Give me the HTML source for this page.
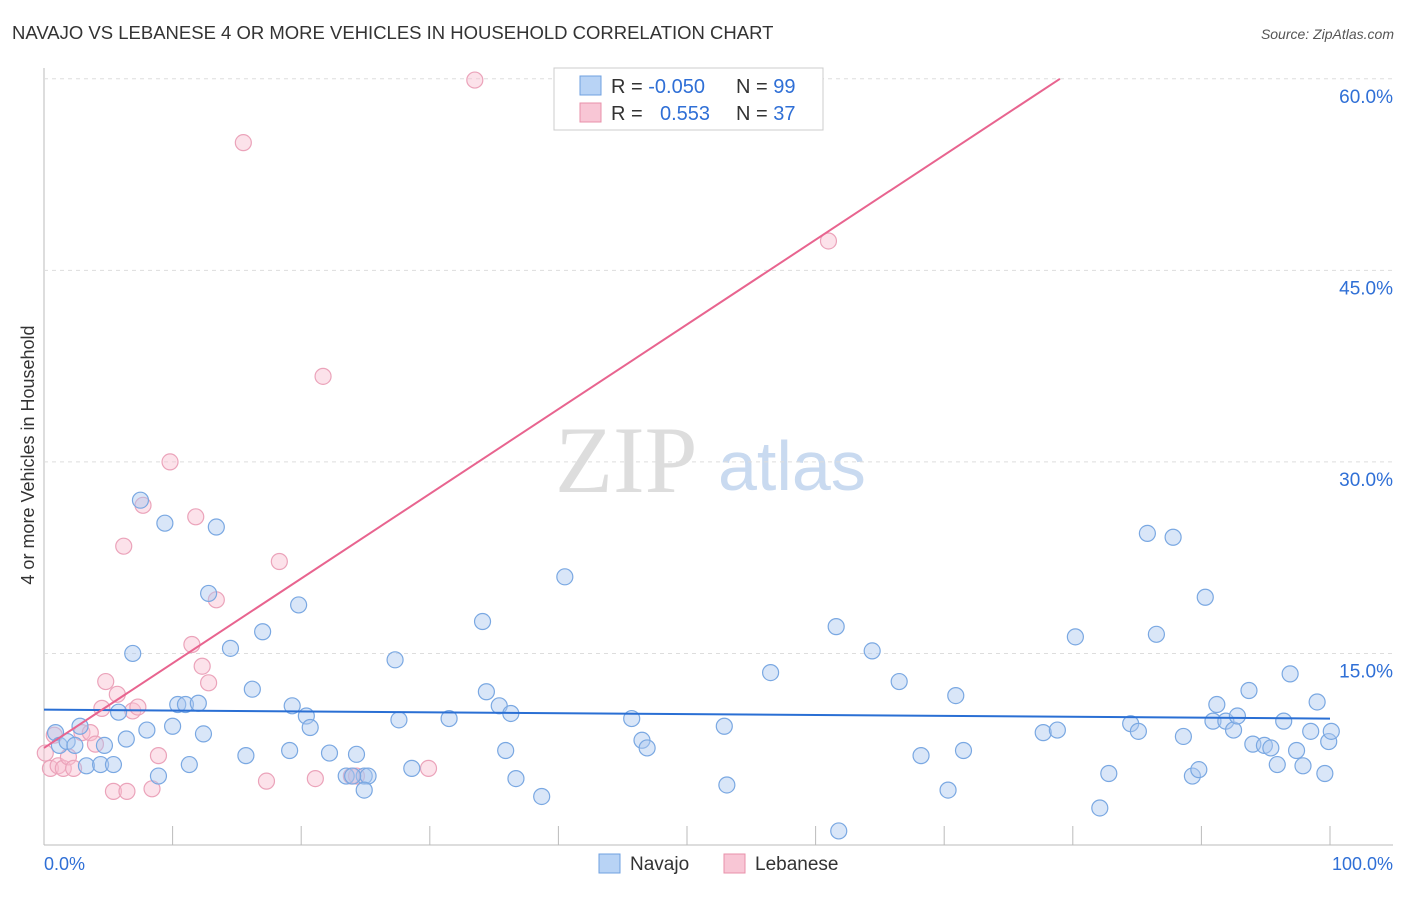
<!DOCTYPE html>
<html><head><meta charset="utf-8"><style>
body{margin:0;background:#fff;font-family:"Liberation Sans",sans-serif;}
</style></head><body>
<svg id="c" width="1406" height="892" xmlns="http://www.w3.org/2000/svg">
<text x="12" y="39" font-size="18.5" fill="#333">NAVAJO VS LEBANESE 4 OR MORE VEHICLES IN HOUSEHOLD CORRELATION CHART</text>
<text x="1394" y="39" font-size="14" fill="#555" font-style="italic" text-anchor="end">Source: ZipAtlas.com</text>
<text transform="translate(34,455) rotate(-90)" font-size="18" fill="#333" text-anchor="middle">4 or more Vehicles in Household</text>
<text x="555" y="492" font-size="95" fill="#ddd" font-family="Liberation Serif,serif">ZIP</text>
<text x="718" y="490" font-size="70" fill="#c9daf0">atlas</text>
<g id="grid"></g><g id="pts"></g><g id="lines"></g>
<g>
<rect x="554" y="68" width="269" height="62" fill="#fff" stroke="#ccc"/>
<rect x="580" y="76" width="21" height="19" fill="#b8d3f5" stroke="#6fa0e0"/>
<rect x="580" y="103" width="21" height="19" fill="#f8c6d5" stroke="#e890aa"/>
<text x="611" y="93" font-size="20" fill="#333">R = <tspan fill="#2f6fd6">-0.050</tspan></text>
<text x="736" y="93" font-size="20" fill="#333">N = <tspan fill="#2f6fd6">99</tspan></text>
<text x="611" y="120" font-size="20" fill="#333">R = </text>
<text x="660" y="120" font-size="20" fill="#2f6fd6">0.553</text>
<text x="736" y="120" font-size="20" fill="#333">N = <tspan fill="#2f6fd6">37</tspan></text>
</g>
<g>
<rect x="599" y="854" width="21" height="19" fill="#b8d3f5" stroke="#6fa0e0"/>
<text x="630" y="870" font-size="19" fill="#333">Navajo</text>
<rect x="724" y="854" width="21" height="19" fill="#f8c6d5" stroke="#e890aa"/>
<text x="755" y="870" font-size="19" fill="#333">Lebanese</text>
</g>
<text x="44" y="870" font-size="18" fill="#2f6fd6">0.0%</text>
<text x="1393" y="870" font-size="18" fill="#2f6fd6" text-anchor="end">100.0%</text>
</svg>
<script>
const yTicks=[15,30,45,60];
const xTicks=[0,10,20,30,40,50,60,70,80,90,100];
const navX=[0.9,1.2,1.8,2.4,2.8,3.3,4.4,4.7,5.4,5.8,6.4,6.9,7.5,8.0,8.9,9.4,10.0,10.4,11.0,11.3,12.0,12.4,12.8,13.4,14.5,15.7,16.2,17.0,19.1,19.3,19.8,20.4,20.7,22.2,23.5,24.3,24.9,25.2,24.0,24.9,27.3,27.6,28.6,31.5,34.1,34.4,35.4,35.9,36.3,36.7,38.7,40.5,45.7,46.5,46.9,52.9,53.1,56.5,61.6,61.8,64.4,66.5,68.2,70.3,70.9,71.5,77.7,78.8,80.2,82.1,82.8,84.5,85.1,85.8,86.5,87.8,88.6,89.3,89.8,90.3,90.9,91.2,91.9,92.5,92.8,93.7,94.0,94.9,95.4,95.9,96.4,96.9,97.4,97.9,98.5,99.0,99.6,99.9,100.1];
const navY=[8.8,7.8,8.1,7.8,9.3,6.2,6.3,7.8,6.3,10.4,8.3,15.0,27.0,9.0,5.4,25.2,9.3,11.0,11.0,6.3,11.1,8.7,19.7,24.9,15.4,7.0,12.2,16.7,7.4,10.9,18.8,10.1,9.2,7.2,5.4,7.1,5.4,5.4,5.4,4.3,14.5,9.8,6.0,9.9,17.5,12.0,10.9,7.4,10.3,5.2,3.8,21.0,9.9,8.2,7.6,9.3,4.7,13.5,17.1,1.1,15.2,12.8,7.0,4.3,11.7,7.4,8.8,9.0,16.3,2.9,5.6,9.5,8.9,24.4,16.5,24.1,8.5,5.4,5.9,19.4,9.7,11.0,9.7,9.0,10.1,12.1,7.9,7.8,7.6,6.3,9.7,13.4,7.4,6.2,8.9,11.2,5.6,8.1,8.9];
const lebX=[0.5,0.8,1.1,1.5,1.9,2.3,2.95,3.6,4.0,4.5,4.8,5.4,5.7,6.2,6.45,6.9,7.3,7.7,8.4,8.9,9.8,11.5,11.8,12.3,12.8,13.4,15.5,17.3,18.3,21.1,21.7,23.9,24.3,29.9,33.5,61.0,0.1];
const lebY=[6.0,8.6,6.2,6.0,6.9,6.0,8.8,8.8,7.9,10.7,12.8,4.2,11.8,23.4,4.2,10.5,10.8,26.6,4.4,7.0,30.0,15.7,25.7,14.0,12.7,19.2,55.0,5.0,22.2,5.2,36.7,5.4,5.4,6.0,59.9,47.3,7.2];
const navFit=[10.6,9.9], lebFit=[7.6,60];
const X=v=>44+v*12.86, Y=v=>845-v*12.77;
const ns="http://www.w3.org/2000/svg";
function mk(t,a,p){const e=document.createElementNS(ns,t);for(const k in a)e.setAttribute(k,a[k]);document.getElementById(p).appendChild(e);return e;}
let e=mk('line',{x1:44,y1:68,x2:44,y2:845,stroke:'#bbb'},'grid');


e=mk('line',{x1:44,y1:845,x2:1393,y2:845,stroke:'#bbb'},'grid');


yTicks.forEach(t=>{
 e=mk('line',{x1:44,y1:Y(t),x2:1393,y2:Y(t),stroke:'#ddd','stroke-dasharray':'4,4'},'grid');
 
 
 e=mk('text',{x:1393,y:Y(t)+24,'font-size':19,fill:'#2f6fd6','text-anchor':'end'},'grid');
 e.textContent=t.toFixed(1)+'%';
 
 
});
xTicks.forEach(t=>{
 e=mk('line',{x1:X(t),y1:826,x2:X(t),y2:845,stroke:'#bbb'},'grid');
 
 
});
lebX.forEach((v,i)=>{
 e=mk('circle',{cx:X(v),cy:Y(lebY[i]),r:8,fill:'rgba(248,190,208,0.45)',stroke:'#eba3ba','stroke-width':1.2},'pts');
 
 
});
navX.forEach((v,i)=>{
 e=mk('circle',{cx:X(v),cy:Y(navY[i]),r:8,fill:'rgba(170,200,240,0.45)',stroke:'#7aa8e2','stroke-width':1.2},'pts');
 
 
});
e=mk('line',{x1:X(0),y1:Y(navFit[0]),x2:X(100),y2:Y(navFit[1]),stroke:'#2a6fd4','stroke-width':2},'lines');


e=mk('line',{x1:X(0),y1:Y(lebFit[0]),x2:X(79),y2:Y(lebFit[1]),stroke:'#e8648f','stroke-width':2},'lines');


</script>
</body></html>
